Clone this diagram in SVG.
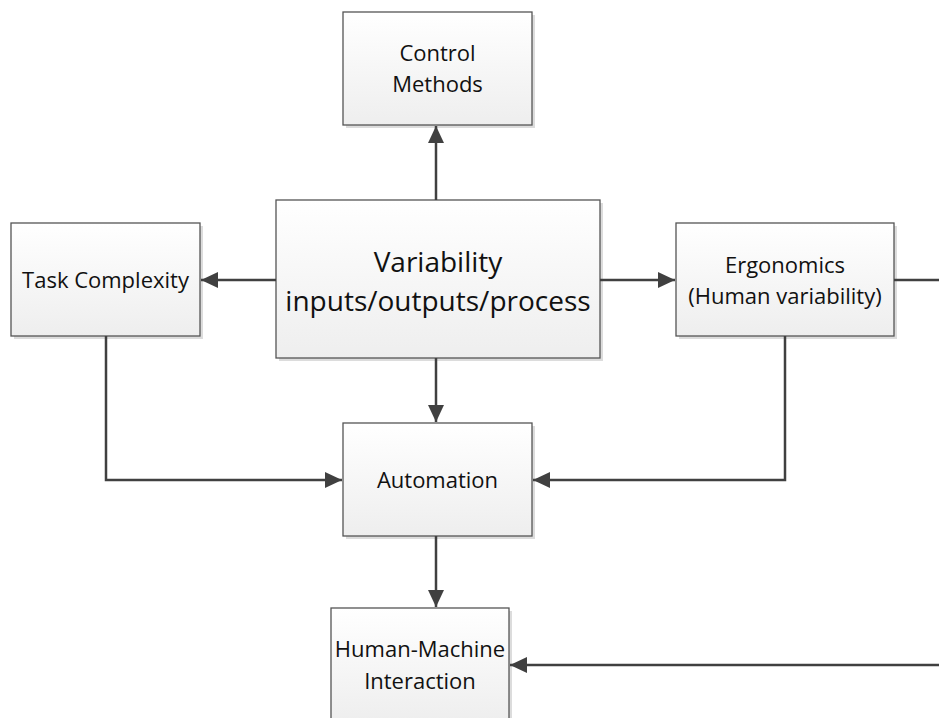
<svg xmlns="http://www.w3.org/2000/svg" width="939" height="718" viewBox="0 0 939 718">
<defs>
<linearGradient id="g" x1="0" y1="0" x2="0" y2="1"><stop offset="0" stop-color="#ffffff"/><stop offset="1" stop-color="#eeeeee"/></linearGradient>
<marker id="ah" viewBox="0 0 17 16" refX="17" refY="8" markerWidth="17" markerHeight="16" markerUnits="userSpaceOnUse" orient="auto"><path d="M0,0 L17,8 L0,16 Z" fill="#404040"/></marker>
</defs>
<style>
.box{fill:url(#g);stroke:#555;stroke-width:1.3}
.sh{fill:#dcdcdc}
.t{font-family:"Open Sans","Noto Sans","Liberation Sans",sans-serif;font-size:22px;fill:#111;text-anchor:middle}
.tb{font-size:28px}
.c{fill:none;stroke:#404040;stroke-width:2.5}
</style>
<g id="control-methods"><rect class="sh" x="346" y="15" width="189" height="113"/><rect class="box" x="343" y="12" width="189" height="113"/><text class="t" x="437.5" y="61">Control</text><text class="t" x="437.5" y="92">Methods</text></g>
<g id="task-complexity"><rect class="sh" x="14" y="226" width="189" height="113"/><rect class="box" x="11" y="223" width="189" height="113"/><text class="t" x="105.5" y="288">Task Complexity</text></g>
<g id="variability"><rect class="sh" x="279" y="203" width="324" height="158"/><rect class="box" x="276" y="200" width="324" height="158"/><text class="t tb" x="438" y="272">Variability</text><text class="t tb" x="438" y="311">inputs/outputs/process</text></g>
<g id="ergonomics"><rect class="sh" x="679" y="226" width="218" height="113"/><rect class="box" x="676" y="223" width="218" height="113"/><text class="t" x="785" y="273">Ergonomics</text><text class="t" x="785" y="304">(Human variability)</text></g>
<g id="automation"><rect class="sh" x="346" y="426" width="189" height="113"/><rect class="box" x="343" y="423" width="189" height="113"/><text class="t" x="437.5" y="488">Automation</text></g>
<g id="hmi"><rect class="sh" x="334" y="611" width="178" height="113"/><rect class="box" x="331" y="608" width="178" height="113"/><text class="t" x="420" y="657">Human-Machine</text><text class="t" x="420" y="689">Interaction</text></g>
<g id="connectors">
<line class="c" x1="436" y1="200" x2="436" y2="126" marker-end="url(#ah)"/>
<line class="c" x1="276" y1="280" x2="201" y2="280" marker-end="url(#ah)"/>
<line class="c" x1="600" y1="280" x2="675" y2="280" marker-end="url(#ah)"/>
<line class="c" x1="436" y1="358" x2="436" y2="422" marker-end="url(#ah)"/>
<polyline class="c" points="106,336 106,480 342,480" marker-end="url(#ah)"/>
<polyline class="c" points="785,336 785,480 533,480" marker-end="url(#ah)"/>
<line class="c" x1="894" y1="280" x2="939" y2="280"/>
<line class="c" x1="436" y1="536" x2="436" y2="607" marker-end="url(#ah)"/>
<line class="c" x1="939" y1="665" x2="510" y2="665" marker-end="url(#ah)"/>
</g>
</svg>
